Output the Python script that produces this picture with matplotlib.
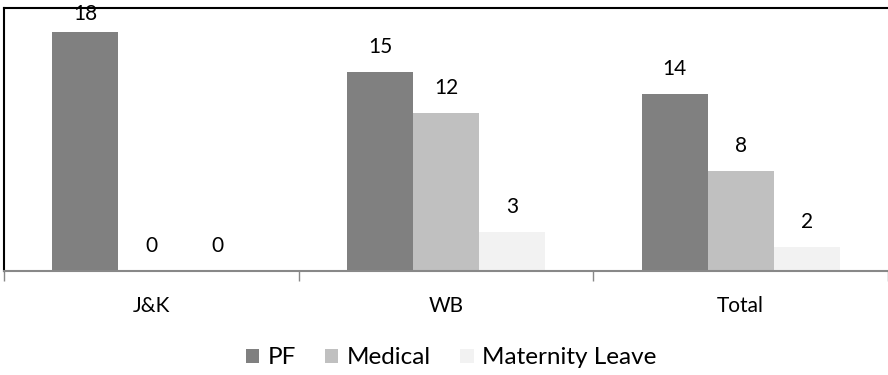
import numpy as np
import matplotlib
matplotlib.use("Agg")
import matplotlib.pyplot as plt

plt.rcParams['font.family'] = ['Lato', 'DejaVu Sans']

regions = ['J&K', 'WB', 'Total']
series = ['PF', 'Medical', 'Maternity Leave']
pf = [18, 15, 13.3]
medical = [0, 11.9, 7.5]
maternity = [0, 2.9, 1.8]
pf_lbl = [18, 15, 14]
medical_lbl = [0, 12, 8]
maternity_lbl = [0, 3, 2]
colors = ['#808080', '#c0c0c0', '#f2f2f2']

ymax = 19.8
fig = plt.figure(figsize=(8.88, 3.75), dpi=100)
ax = fig.add_axes([4/888, 104/375, 884/888, 263/375])

x = np.arange(len(regions))
w = 0.224
for i, (vals, lbls) in enumerate(zip([pf, medical, maternity], [pf_lbl, medical_lbl, maternity_lbl])):
    xs = x + (i - 1) * w
    ax.bar(xs, vals, width=w, color=colors[i], label=series[i], zorder=2)
    for xx, v, l in zip(xs, vals, lbls):
        y = min(v + 25/263*ymax, ymax - 6/263*ymax)
        ax.text(xx, y, str(l), ha='center', va='center', fontsize=15, clip_on=False, zorder=5)

ax.set_xlim(-0.5, 2.5)
ax.set_ylim(0, ymax)
ax.set_yticks([])
ax.set_xticks([-0.5, 0.5, 1.5, 2.5])
ax.set_xticklabels([])
ax.set_xticks(x, minor=True)
ax.set_xticklabels(regions, minor=True, fontsize=15)
ax.tick_params(axis='x', which='major', length=7, color='#888888', width=1)
ax.tick_params(axis='x', which='minor', length=0, pad=18)
ax.spines['right'].set_visible(False)
ax.spines['bottom'].set_color('#888888')
ax.spines['bottom'].set_linewidth(1.5)
ax.spines['left'].set_color('black')
ax.spines['top'].set_color('black')
ax.spines['left'].set_linewidth(1.5)
ax.spines['top'].set_linewidth(1.5)

fig.legend(loc='center', bbox_to_anchor=(451/888, 17/375), ncol=3, frameon=False,
           fontsize=17.5, handlelength=0.55, handleheight=0.55, handletextpad=0.35,
           columnspacing=1.2)

fig.savefig('out.png', dpi=100)
